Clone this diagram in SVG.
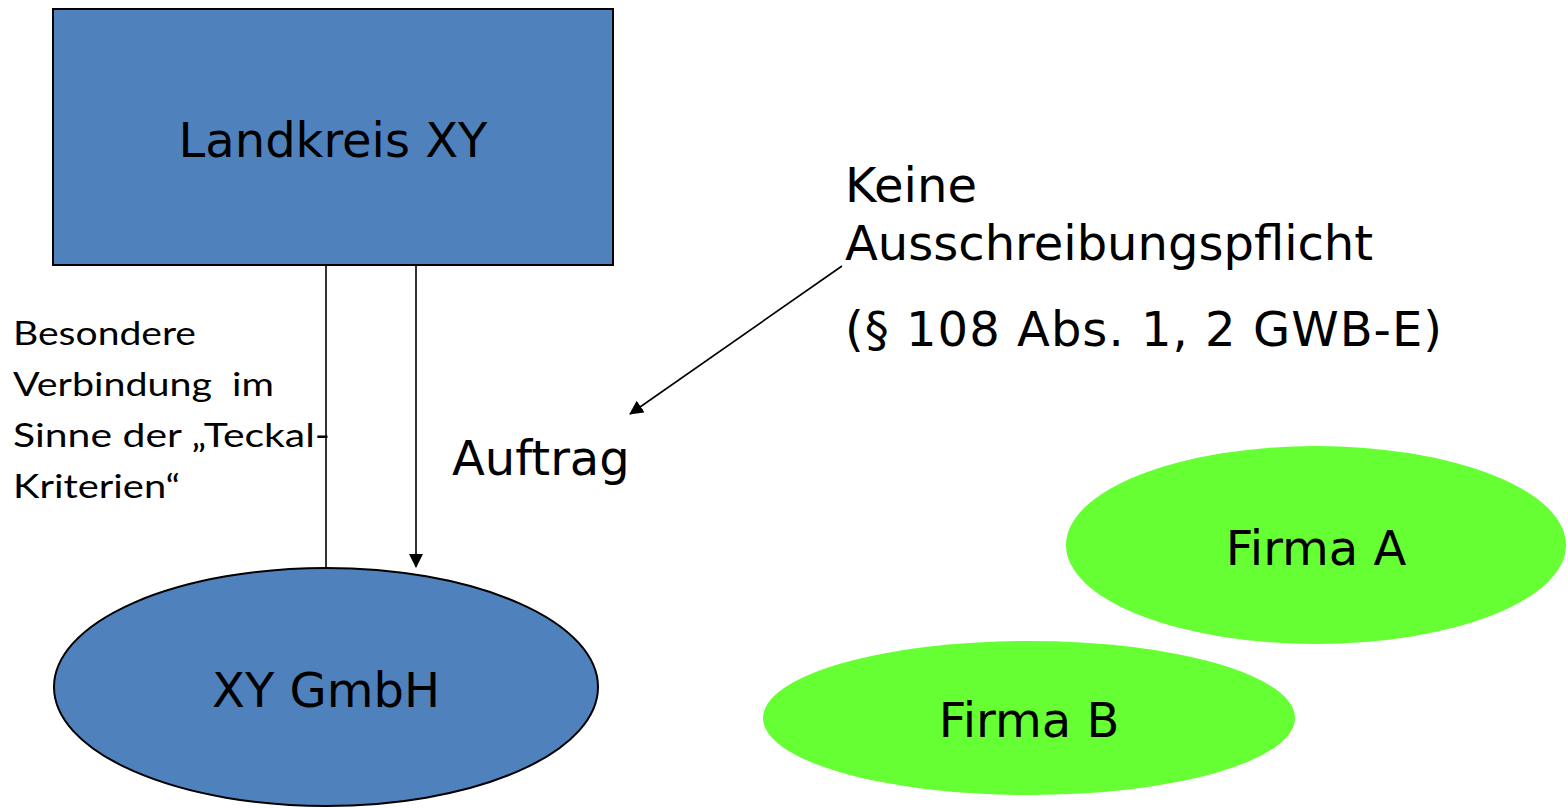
<svg xmlns="http://www.w3.org/2000/svg" width="1568" height="808" viewBox="0 0 1568 808">
<style>
.lbl{font-family:"DejaVu Sans",Verdana,sans-serif;font-size:48px;fill:#000}
.side{font-family:Lato,"Liberation Sans",sans-serif;font-size:33px;fill:#000}
.blue{fill:#4f81bd;stroke:#000;stroke-width:2}
.green{fill:#66ff33;stroke:none}
.conn{stroke:#000;stroke-width:1.6;fill:none}
</style>
<defs>
<marker id="ah2" markerWidth="14" markerHeight="14" refX="13" refY="7" orient="auto" markerUnits="userSpaceOnUse" viewBox="0 0 14 14">
<path d="M0,0 L14,7 L0,14 Z" fill="#000"/>
</marker>
</defs>
<rect width="1568" height="808" fill="#fff"/>
<g id="landkreis">
<rect class="blue" x="53" y="9" width="560" height="256"/>
<text class="lbl" x="333" y="157" text-anchor="middle">Landkreis XY</text>
</g>
<g id="gmbh">
<ellipse class="blue" cx="326" cy="687" rx="272" ry="119"/>
<text class="lbl" x="326" y="707" text-anchor="middle">XY GmbH</text>
</g>
<g id="firmaA">
<ellipse class="green" cx="1316" cy="545" rx="250" ry="99"/>
<text class="lbl" x="1316" y="565" text-anchor="middle">Firma A</text>
</g>
<g id="firmaB">
<ellipse class="green" cx="1029" cy="718" rx="266" ry="77"/>
<text class="lbl" x="1029" y="737" text-anchor="middle">Firma B</text>
</g>
<g id="connectors">
<line class="conn" x1="326" y1="265" x2="326" y2="567"/>
<line class="conn" x1="416" y1="265" x2="416" y2="567" marker-end="url(#ah2)"/>
<line class="conn" x1="842" y1="266" x2="630" y2="414" marker-end="url(#ah2)"/>
</g>
<g id="labels">
<text class="side" x="13" y="345" textLength="183" lengthAdjust="spacingAndGlyphs">Besondere</text>
<text class="side" x="13" y="396" textLength="261" lengthAdjust="spacingAndGlyphs" xml:space="preserve">Verbindung  im</text>
<text class="side" x="13" y="447" textLength="317" lengthAdjust="spacingAndGlyphs">Sinne der „Teckal-</text>
<text class="side" x="13" y="498" textLength="167" lengthAdjust="spacingAndGlyphs">Kriterien“</text>
<text class="lbl" x="452" y="475">Auftrag</text>
<text class="lbl" x="845" y="202">Keine</text>
<text class="lbl" x="845" y="260">Ausschreibungspflicht</text>
<text class="lbl" x="845" y="346" textLength="597" lengthAdjust="spacing">(§ 108 Abs. 1, 2 GWB-E)</text>
</g>
</svg>
